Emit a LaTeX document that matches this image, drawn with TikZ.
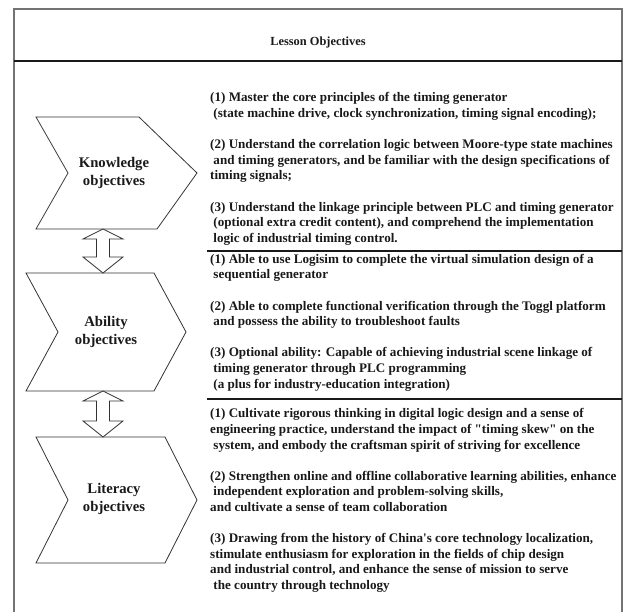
\documentclass[tikz,border=0pt]{standalone}
\usepackage{fontspec}
\setmainfont{Liberation Serif}[Ligatures=TeXOff]
\begin{document}
\begin{tikzpicture}[x=1pt,y=-1pt,
  frame/.style={draw=black!55, line width=2pt},
  rule/.style={draw=black!90, line width=1.6pt},
  chev/.style={draw=black!80, line width=0.8pt, fill=white, line join=miter},
  arrowline/.style={draw=black!80, line width=0.8pt, fill=white},
  headtext/.style={font=\bfseries\fontsize{12.4}{14}\selectfont, text=black!90, inner sep=0},
  label/.style={font=\bfseries\fontsize{14.7}{18}\selectfont, align=center, text=black!90, inner sep=0},
  body/.style={font=\bfseries\fontsize{13.1}{15.6}\selectfont, align=left, anchor=north west,
    text=black!90, inner sep=0},
  pics/updown/.style={code={
    \draw[arrowline] (0,0) -- (20,10) -- (6.5,10) -- (6.5,#1-16) -- (20,#1-16) -- (0,#1)
      -- (-20,#1-16) -- (-6.5,#1-16) -- (-6.5,10) -- (-20,10) -- cycle;
  }},
]
\clip (0,0) rectangle (625,612);

% outer frame and heading band
\draw[frame] (14,9) rectangle (622,640);
\node[headtext] (title) at (318,43) {Lesson Objectives};
\draw[rule] (14,61) -- (622,61);

% section rules on the right-hand side
\coordinate (r1a) at (207,251);
\coordinate (r1b) at (622,251);
\coordinate (r2a) at (207,399);
\coordinate (r2b) at (622,399);
\draw[rule] (r1a) -- (r1b);
\draw[rule] (r2a) -- (r2b);

% chevrons
\draw[chev] (36,117) -- (139,117) -- (197,173) -- (157,229) -- (36,229) -- (68,173) -- cycle;
\draw[chev] (26,273) -- (154,273) -- (186,332) -- (154,391) -- (26,391) -- (58,332) -- cycle;
\draw[chev] (36,437) -- (165,437) -- (197,500) -- (165,563) -- (36,563) -- (68,500) -- cycle;

\node[label] (know) at (114,173) {Knowledge\\objectives};
\node[label] (abil) at (106,332) {Ability\\objectives};
\node[label] (lit)  at (114,499) {Literacy\\objectives};

% two-way arrows between the chevrons
\coordinate (k-bot) at (103,229);
\coordinate (a-top) at (103,273);
\coordinate (a-bot) at (103,391);
\coordinate (l-top) at (103,437);
\pic at (k-bot) {updown=44};
\pic at (a-bot) {updown=46};

% objective texts
\node[body] (ktext) at (210,92.4) {%
(1) Master the core principles of the timing generator\\
\ (state machine drive, clock synchronization, timing signal encoding);\\[15.6pt]
(2) Understand the correlation logic between Moore-type state machines\\
\ and timing generators, and be familiar with the design specifications of\\
timing signals;\\[15.6pt]
(3) Understand the linkage principle between PLC and timing generator\\
\ (optional extra credit content), and comprehend the implementation\\
\ logic of industrial timing control.};

\node[body] (atext) at (210,253.8) {%
(1) Able to use Logisim to complete the virtual simulation design of a\\
\ sequential generator\\[15.6pt]
(2) Able to complete functional verification through the Toggl platform\\
\ and possess the ability to troubleshoot faults\\[15.6pt]
(3) Optional ability: Capable of achieving industrial scene linkage of\\
\ timing generator through PLC programming\\
\ (a plus for industry-education integration)};

\node[body] (ltext) at (210,408.5) {%
(1) Cultivate rigorous thinking in digital logic design and a sense of\\
engineering practice, understand the impact of "timing skew" on the\\
\ system, and embody the craftsman spirit of striving for excellence\\[15.6pt]
(2) Strengthen online and offline collaborative learning abilities, enhance\\
\ independent exploration and problem-solving skills,\\
and cultivate a sense of team collaboration\\[15.6pt]
(3) Drawing from the history of China's core technology localization,\\
stimulate enthusiasm for exploration in the fields of chip design\\
and industrial control, and enhance the sense of mission to serve\\
\ the country through technology};
\end{tikzpicture}
\end{document}
